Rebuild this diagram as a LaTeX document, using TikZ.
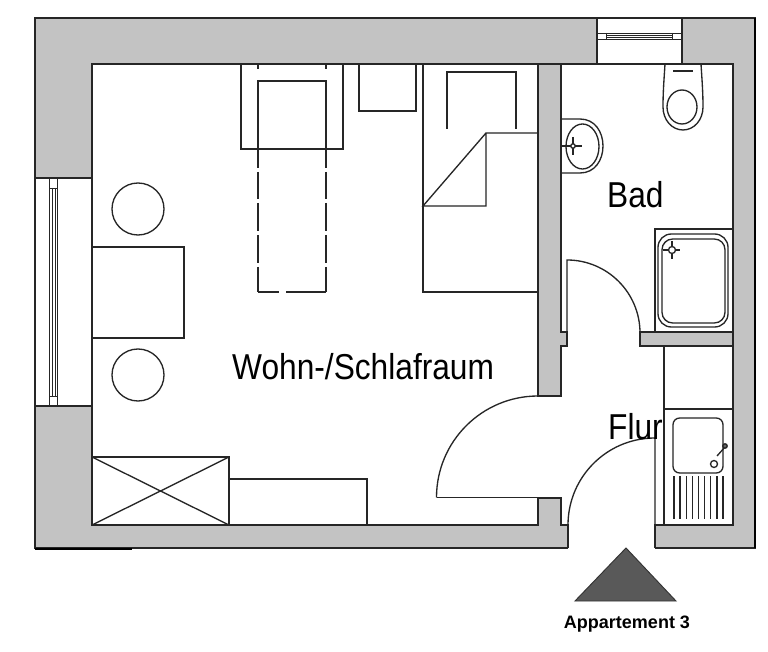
\documentclass[tikz,border=0pt]{standalone}
\usepackage{fontspec}
\setmainfont{Liberation Sans}
\definecolor{wallgray}{HTML}{C3C3C3}
\definecolor{roofgray}{HTML}{595959}
\tikzset{
  ln/.style={draw=black!85,line width=1pt,line join=miter},
  thin/.style={draw=black!85,line width=0.7pt},
  lbl/.style={inner sep=0pt,anchor=base west,font=\fontsize{27pt}{30pt}\selectfont,xscale=0.88,transform shape},
}
\begin{document}
\begin{tikzpicture}[x=0.75pt,y=-0.75pt]
\useasboundingbox (0,0) rectangle (768,652);
\fill[white] (0,0) rectangle (768,652);
% wall mass
\fill[wallgray] (35,18) rectangle (755,548);
% interior
\fill[white] (92,64) -- (733,64) -- (733,525) -- (655,525) -- (655,549) -- (568,549) -- (568,525) -- (92,525) -- cycle;
% internal walls
\fill[wallgray] (538,64) -- (561,64) -- (561,332) -- (567,332) -- (567,346) -- (561,346) -- (561,396) -- (538,396) -- cycle;
\fill[wallgray] (538,525) -- (538,498) -- (561,498) -- (561,525) -- (568,525) -- (568,548) -- (538,548) -- cycle;
\fill[wallgray] (640,332) rectangle (733,346);
% wall outlines
\draw[ln] (568,548) -- (35,548) -- (35,18) -- (755,18) -- (755,548) -- (655,548);
\draw[ln] (655,548) -- (655,525) -- (733,525) -- (733,64) -- (92,64) -- (92,525) -- (538,525) -- (538,498) -- (561,498) -- (561,525) -- (568,525) -- (568,548);
\draw[ln] (538,64) -- (538,396) -- (561,396) -- (561,346) -- (567,346) -- (567,332) -- (561,332) -- (561,64);
\draw[ln] (733,332) -- (640,332) -- (640,346) -- (733,346);
\draw[black,line width=1.6pt] (755,18) -- (755,548);
\draw[black,line width=1pt] (35,549) -- (132,549);
% left window
\filldraw[ln,fill=white] (35,178) rectangle (92,406);
\draw[thin] (49,178) rectangle (57,406);
\draw[thin] (49,188) -- (57,188) (49,396) -- (57,396);
\draw[thin] (52,188) -- (52,396) (55,188) -- (55,396);
% top window
\filldraw[ln,fill=white] (597,18) rectangle (682,64);
\draw[thin] (597,33) rectangle (682,39);
\draw[thin] (606,33) -- (606,39) (672,33) -- (672,39);
\draw[thin] (606,35) -- (672,35) (606,37) -- (672,37);
% table and stools
\draw[ln] (92,247) rectangle (184,338);
\draw[ln] (138,209) circle[radius=26];
\draw[ln] (138,375) circle[radius=26];
% armchair with bed
\draw[ln] (241,64) rectangle (343,149);
\draw[ln] (326,149) -- (326,81) -- (258,81) -- (258,149);
\foreach \k in {258,326} {
  \draw[ln] (\k,64) -- (\k,69);
  \draw[ln] (\k,149) -- (\k,168) (\k,172) -- (\k,199) (\k,203) -- (\k,231) (\k,235) -- (\k,263) (\k,267) -- (\k,292);
}
\draw[ln] (258,292) -- (279,292) (286,292) -- (326,292);
\draw[ln] (359,64) rectangle (416,111);
% bed
\draw[ln] (423,64) rectangle (538,292);
\draw[ln] (447,129) -- (447,72) -- (516,72) -- (516,129);
\draw[ln] (538,133) -- (486,133) -- (486,206) -- (423,206) -- (486,133);
% wardrobe
\draw[ln] (92,457) rectangle (229,525);
\draw[ln] (92,457) -- (229,525) (92,525) -- (229,457);
\draw[ln] (229,479) -- (367,479) -- (367,525);
% bath
\draw[ln] (665,64) .. controls (664,80) and (663,92) .. (663,107)
  .. controls (663,120) and (672,130) .. (683,130)
  .. controls (694,130) and (703,120) .. (703,107)
  .. controls (703,92) and (702,80) .. (701,64);
\draw[ln] (682,107) ellipse[x radius=15,y radius=17];
\draw[ln] (673,71) -- (693,71);
\draw[ln] (561,119) -- (580,119) .. controls (595,119) and (603,132) .. (603,146)
  .. controls (603,160) and (595,173) .. (580,173) -- (561,173);
\draw[ln] (582.5,146.5) ellipse[x radius=16.5,y radius=22.5];
\draw[ln] (561,146) -- (582,146) (573,137) -- (573,155);
\draw[ln,fill=white] (573,146) circle[radius=2.2];
% shower
\draw[ln] (655,332) -- (655,229) -- (733,229);
\draw[ln,rounded corners=10pt] (658,234) rectangle (728,327);
\draw[ln,rounded corners=8pt] (662,239) rectangle (725,323);
\draw[ln] (663,250) -- (680,250) (672,241) -- (672,259);
\draw[ln,fill=white] (672,250) circle[radius=3.5];
% doors
\draw[ln] (567,332) -- (567,260) arc[start angle=-90,end angle=0,radius=73];
\draw[ln] (538,396) arc[start angle=-90,end angle=-180,radius=101.5];
\draw[ln] (436.5,497.5) -- (538,497.5);
\draw[ln] (568,525) arc[start angle=180,end angle=270,radius=87] -- (655,525);
% kitchen
\draw[ln] (664,346) -- (664,525);
\draw[ln] (664,409) -- (733,409);
\draw[ln,rounded corners=5pt] (673,418) rectangle (723,473);
\draw[ln] (714,464) circle[radius=3.5];
\draw[ln] (717,456) -- (725,447);
\draw[ln,fill=black!60] (725,446) circle[radius=2.2];
\foreach \k in {674,680.1,686.2,692.4,698.5,704.6,710.7,716.9,723}
  \draw[ln] (\k,476) -- (\k,519);
% entrance mark
\fill[roofgray,draw=black!80,line width=0.7pt] (626,548) -- (676,601) -- (575,601) -- cycle;
% labels
\node[lbl] (bad) at (607,208) {Bad};
\node[lbl] (wohn) at (232,379) {Wohn-/Schlafraum};
\node[lbl] (flur) at (608,440) {Flur};
\node[inner sep=0pt,anchor=base,font=\fontsize{13.5pt}{15pt}\selectfont\bfseries] (app) at (627,628) {Appartement 3};
\end{tikzpicture}
\end{document}
